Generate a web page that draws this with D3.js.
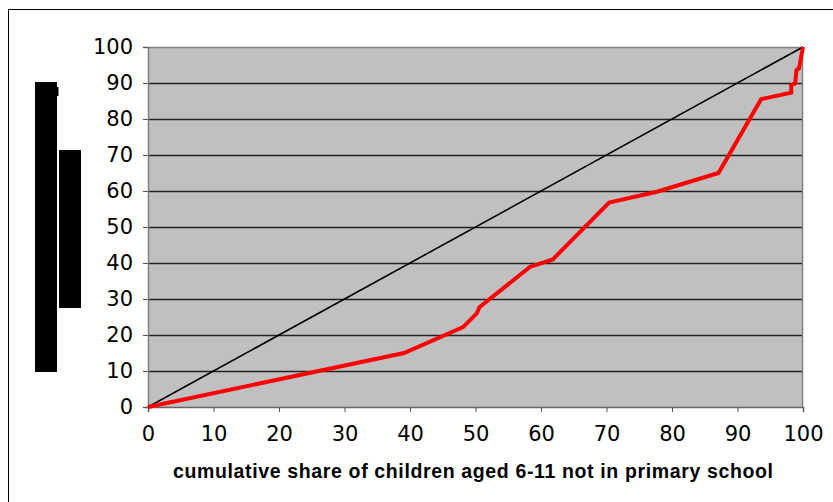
<!DOCTYPE html>
<html>
<head>
<meta charset="utf-8">
<script src="https://cdn.jsdelivr.net/npm/d3@7"></script>
<style>
  html, body { margin: 0; padding: 0; background: #fff; }
  svg { display: block; }
</style>
</head>
<body>
<svg id="chart" width="833" height="502"></svg>
<script>
// Cumulative share of out-of-school children (x) vs. cumulative share (y)
const curveX = [0, 39.1, 48.1, 50.2, 50.6, 58.3, 61.8, 70.4, 77.7, 87.1, 93.6, 98.2, 98.2, 98.8, 99.0, 99.4, 100];
const curveY = [0, 15.0, 22.2, 26.0, 27.7, 38.9, 41.0, 56.8, 59.8, 65.0, 85.5, 87.3, 89.4, 89.9, 93.6, 94.1, 100];
const equalityX = [0, 100];
const equalityY = [0, 100];
const xTicks = [0, 10, 20, 30, 40, 50, 60, 70, 80, 90, 100];
const yTicks = [0, 10, 20, 30, 40, 50, 60, 70, 80, 90, 100];
const xTitle = "cumulative share of children aged 6-11 not in primary school";

const svg = d3.select("#chart");
const plot = { left: 148, right: 803, top: 47, bottom: 407 };

const x = d3.scaleLinear().domain([0, 100]).range([plot.left, plot.right]);
const y = d3.scaleLinear().domain([0, 100]).range([plot.bottom, plot.top]);

// outer chart frame
svg.append("rect")
  .attr("x", 8.5).attr("y", 9.5)
  .attr("width", 840).attr("height", 510)
  .attr("fill", "none").attr("stroke", "#000").attr("stroke-width", 1);

// masked axis-title blocks
const g0 = svg.append("g").attr("fill", "#000");
g0.append("rect").attr("x", 35).attr("y", 82).attr("width", 22).attr("height", 290);
g0.append("rect").attr("x", 56).attr("y", 87).attr("width", 2.5).attr("height", 9);
g0.append("rect").attr("x", 59).attr("y", 150).attr("width", 22).attr("height", 158);

// plot background
svg.append("rect")
  .attr("x", plot.left).attr("y", plot.top)
  .attr("width", plot.right - plot.left).attr("height", plot.bottom - plot.top)
  .attr("fill", "#c0c0c0");

// horizontal gridlines
svg.append("g")
  .selectAll("line")
  .data(yTicks.filter(d => d > 0 && d < 100))
  .join("line")
  .attr("x1", plot.left).attr("x2", plot.right)
  .attr("y1", d => Math.round(y(d)) + 0.5).attr("y2", d => Math.round(y(d)) + 0.5)
  .attr("stroke", "#222").attr("stroke-width", 1.3);

// plot border (top and right)
svg.append("path")
  .attr("d", `M${plot.left},${plot.top + 0.5}H${plot.right - 0.5}V${plot.bottom}`)
  .attr("fill", "none").attr("stroke", "#808080").attr("stroke-width", 1.5);

// y axis
const yAxis = d3.axisLeft(y).tickValues(yTicks).tickSize(5).tickPadding(10);
const gy = svg.append("g").attr("transform", `translate(${plot.left},0)`).call(yAxis);
gy.select(".domain").attr("stroke", "#808080").attr("stroke-width", 1.5);
gy.selectAll(".tick line").attr("stroke", "#555");
gy.selectAll(".tick text")
  .attr("font-family", "DejaVu Sans, Verdana, sans-serif")
  .attr("font-size", 21).attr("fill", "#000");

// x axis
const xAxis = d3.axisBottom(x).tickValues(xTicks).tickSize(5).tickPadding(14);
const gx = svg.append("g").attr("transform", `translate(0,${plot.bottom})`).call(xAxis);
gx.select(".domain").attr("stroke", "#666").attr("stroke-width", 1.5);
gx.selectAll(".tick line").attr("stroke", "#555");
gx.selectAll(".tick text")
  .attr("font-family", "DejaVu Sans, Verdana, sans-serif")
  .attr("font-size", 21).attr("fill", "#000");

const line = d3.line().x(d => x(d[0])).y(d => y(d[1]));

// line of equality
svg.append("path")
  .datum(d3.zip(equalityX, equalityY))
  .attr("d", line)
  .attr("fill", "none").attr("stroke", "#000").attr("stroke-width", 1.6);

// concentration curve
svg.append("path")
  .datum(d3.zip(curveX, curveY))
  .attr("d", line)
  .attr("fill", "none").attr("stroke", "#ff0000").attr("stroke-width", 4)
  .attr("stroke-linejoin", "miter");

// x axis title
svg.append("text")
  .attr("x", 473).attr("y", 478)
  .attr("text-anchor", "middle")
  .attr("font-family", "Liberation Sans, Arial, sans-serif")
  .attr("font-weight", "bold").attr("font-size", 19.5)
  .attr("textLength", 600).attr("lengthAdjust", "spacing")
  .text(xTitle);
</script>
</body>
</html>
